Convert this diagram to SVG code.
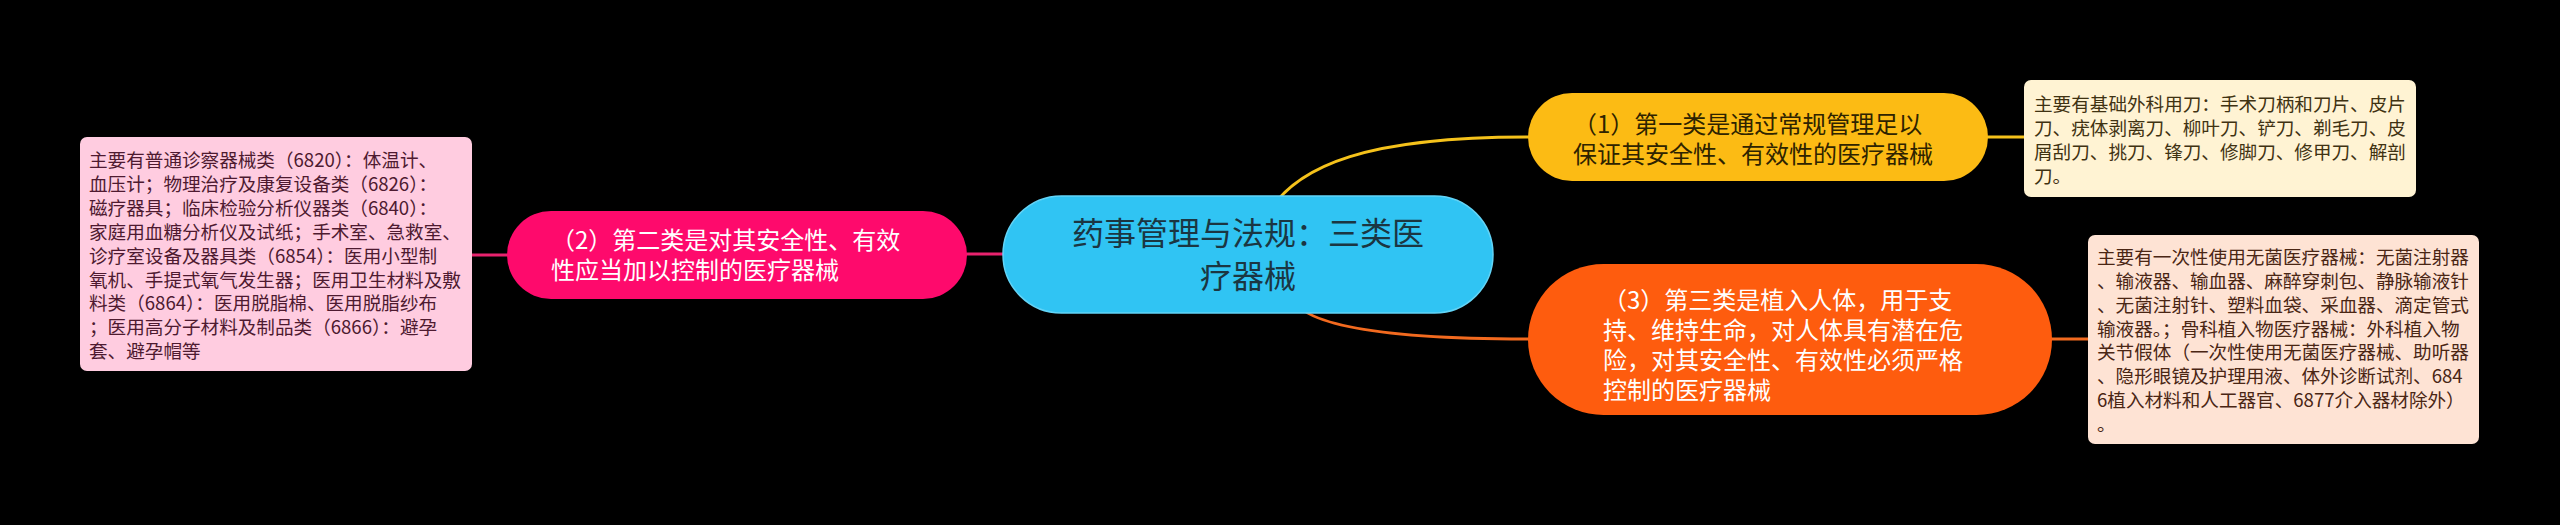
<svg xmlns="http://www.w3.org/2000/svg" width="2560" height="525" viewBox="0 0 2560 525">
<style>
text{font-family:"Noto Sans CJK SC","Noto Sans",sans-serif;}
.leaf{font-size:18.6px;}
.sub{font-size:24px;}
.conn{fill:none;stroke-width:3;stroke-linecap:round;}
</style>
<rect x="0" y="0" width="2560" height="525" fill="#000000"/>
<g id="connectors">
<path class="conn" stroke="#F5C21B" d="M1262,225 C1290,160 1380,137 1528,137"/>
<path class="conn" stroke="#F26A1F" d="M1290,290 Q1290,339 1528,339"/>
<path class="conn" stroke="#E8236E" d="M967,254 L1003,254"/>
<path class="conn" stroke="#E8236E" d="M472,255 L507,255"/>
<path class="conn" stroke="#F5C21B" d="M1988,137 L2024,137"/>
<path class="conn" stroke="#F26A1F" d="M2051,339 L2088,339"/>
</g>
<g id="center">
<rect x="1003" y="196" width="490" height="117" rx="58.5" fill="#30C4F3" stroke="#62D4F7" stroke-width="1.5"/>
<text x="1248" y="244.5" font-size="32" fill="#1B3642" text-anchor="middle">药事管理与法规：三类医</text>
<text x="1248" y="287.5" font-size="32" fill="#1B3642" text-anchor="middle">疗器械</text>
</g>
<g id="node1">
<rect x="1528" y="93" width="460" height="88" rx="44" fill="#FCBB14"/>
<text class="sub" fill="#2E2300"><tspan x="1573" y="132.6">（1）第一类是通过常规管理足以</tspan><tspan x="1573" y="162.6">保证其安全性、有效性的医疗器械</tspan></text>
</g>
<g id="leaf1">
<rect x="2024" y="80" width="392" height="117" rx="7" fill="#FFF3D3"/>
<text class="leaf" fill="#3F3212"><tspan x="2034" y="111.1">主要有基础外科用刀：手术刀柄和刀片、皮片</tspan><tspan x="2034" y="135.1">刀、疣体剥离刀、柳叶刀、铲刀、剃毛刀、皮</tspan><tspan x="2034" y="159.1">屑刮刀、挑刀、锋刀、修脚刀、修甲刀、解剖</tspan><tspan x="2034" y="183.1">刀。</tspan></text>
</g>
<g id="node2">
<rect x="507" y="211" width="460" height="88" rx="44" fill="#FE0A6C"/>
<text class="sub" fill="#FFFFFF"><tspan x="551" y="249.4">（2）第二类是对其安全性、有效</tspan><tspan x="551" y="279.4">性应当加以控制的医疗器械</tspan></text>
</g>
<g id="leaf2">
<rect x="80" y="137" width="392" height="234" rx="7" fill="#FFCCE0"/>
<text class="leaf" fill="#4E1A30"><tspan x="89" y="167.1">主要有普通诊察器械类（6820）：体温计、</tspan><tspan x="89" y="191">血压计；物理治疗及康复设备类（6826）：</tspan><tspan x="89" y="214.9">磁疗器具；临床检验分析仪器类（6840）：</tspan><tspan x="89" y="238.7">家庭用血糖分析仪及试纸；手术室、急救室、</tspan><tspan x="89" y="262.6">诊疗室设备及器具类（6854）：医用小型制</tspan><tspan x="89" y="286.5">氧机、手提式氧气发生器；医用卫生材料及敷</tspan><tspan x="89" y="310.4">料类（6864）：医用脱脂棉、医用脱脂纱布</tspan><tspan x="89" y="334.2">；医用高分子材料及制品类（6866）：避孕</tspan><tspan x="89" y="358.1">套、避孕帽等</tspan></text>
</g>
<g id="node3">
<rect x="1528" y="264" width="524" height="151" rx="75.5" fill="#FE5C0E"/>
<text class="sub" fill="#FFFFFF"><tspan x="1603" y="309.1">（3）第三类是植入人体，用于支</tspan><tspan x="1603" y="339.1">持、维持生命，对人体具有潜在危</tspan><tspan x="1603" y="369.1">险，对其安全性、有效性必须严格</tspan><tspan x="1603" y="399.1">控制的医疗器械</tspan></text>
</g>
<g id="leaf3">
<rect x="2088" y="235" width="391" height="209" rx="7" fill="#FEE3D4"/>
<text class="leaf" fill="#4A2614"><tspan x="2097" y="263.8">主要有一次性使用无菌医疗器械：无菌注射器</tspan><tspan x="2097" y="287.7">、输液器、输血器、麻醉穿刺包、静脉输液针</tspan><tspan x="2097" y="311.6">、无菌注射针、塑料血袋、采血器、滴定管式</tspan><tspan x="2097" y="335.5">输液器。；骨科植入物医疗器械：外科植入物</tspan><tspan x="2097" y="359.4">关节假体（一次性使用无菌医疗器械、助听器</tspan><tspan x="2097" y="383.3">、隐形眼镜及护理用液、体外诊断试剂、684</tspan><tspan x="2097" y="407.2">6植入材料和人工器官、6877介入器材除外）</tspan><tspan x="2097" y="431.1">。</tspan></text>
</g>
</svg>
